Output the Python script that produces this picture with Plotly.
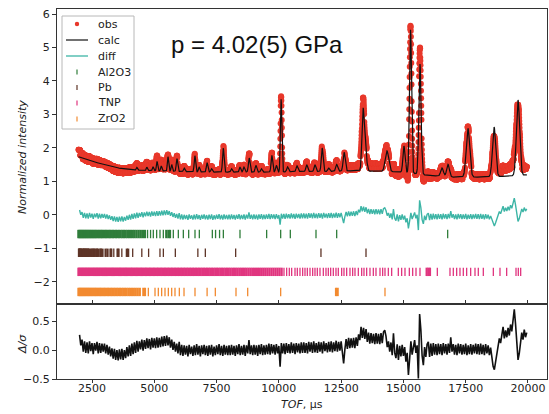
import numpy as np
import plotly.graph_objects as go

# ---------------- data ----------------
# linear-interpolated background (TOF in microseconds, normalized intensity)
bg_tof = [1950, 2500, 3000, 3500, 4000, 4500, 5000, 6000, 7000, 8000, 9000,
          10000, 11000, 12000, 13000, 14000, 15000, 16000, 17000, 18000, 19000, 20000]
bg_val = [1.74, 1.60, 1.50, 1.41, 1.35, 1.33, 1.32, 1.30, 1.28, 1.28, 1.28,
          1.28, 1.30, 1.30, 1.32, 1.30, 1.28, 1.18, 1.13, 1.13, 1.15, 1.20]

# Bragg peaks of the refined profile: centre, height above background, gaussian sigma
peak_tof = [4300, 4700, 4950, 5110, 5280, 5550, 5700, 5910, 6200, 6630, 6800, 7120, 7300,
            7770, 8100, 8440, 8600, 8810, 9080, 9300, 9720, 9900, 10090, 10350, 10730,
            11120, 11450, 11740, 12000, 12320, 12620, 13380, 13480, 14340, 15020, 15284,
            15665, 16550, 16790, 17590, 18640, 19600]
peak_h = [0.08, 0.10, 0.12, 0.28, 0.15, 0.43, 0.20, 0.38, 0.10, 0.48, 0.15, 0.28, 0.10,
          0.72, 0.10, 0.15, 0.15, 0.42, 0.20, 0.10, 0.50, 0.20, 2.17, 0.15, 0.17,
          0.20, 0.20, 0.70, 0.10, 0.20, 0.56, 1.81, 0.55, 0.62, 0.78, 4.28,
          3.29, 0.25, 0.37, 1.45, 1.48, 2.25]
peak_w = [25, 25, 25, 25, 25, 25, 25, 28, 28, 28, 28, 30, 30,
          30, 30, 30, 30, 32, 32, 32, 32, 32, 28, 35, 35,
          35, 35, 35, 35, 38, 40, 45, 50, 70, 40, 40,
          45, 55, 55, 70, 65, 65]

# normalized residual (obs - calc)/sigma, sampled every 50 us from 2000 us
resid_start, resid_step = 2000, 50
resid = [
    0.26, 0.08, 0.18, -0.03, 0.15, -0.05, 0.13, -0.06, 0.15, -0.02, 0.12, -0.07, 0.12, -0.01, 0.14, -0.06, 0.12, -0.05, 0.11, -0.03,
    0.11, -0.06, 0.09, -0.08, 0.06, -0.11, 0.03, -0.15, 0.02, -0.17, 0.00, -0.18, 0.01, -0.16, 0.02, -0.17, 0.00, -0.14, 0.05, -0.11,
    0.08, -0.10, 0.11, -0.07, 0.13, -0.05, 0.16, -0.03, 0.15, 0.01, 0.18, -0.01, 0.17, 0.02, 0.20, 0.03, 0.19, 0.01, 0.21, 0.04,
    0.20, 0.03, 0.22, 0.04, 0.21, 0.05, 0.23, 0.06, 0.24, 0.07, 0.25, 0.08, 0.22, 0.04, 0.18, 0.00, 0.14, -0.03, 0.11, -0.06,
    0.14, -0.09, 0.09, -0.10, 0.08, -0.08, 0.07, -0.11, 0.09, -0.07, 0.06, -0.10, 0.08, -0.09, 0.10, -0.08, 0.07, -0.11, 0.08, -0.07,
    0.09, -0.09, 0.07, -0.10, 0.08, -0.08, 0.09, -0.11, 0.06, -0.09, 0.08, -0.07, 0.10, -0.09, 0.07, -0.10, 0.09, -0.08, 0.07, -0.09,
    0.08, -0.09, 0.09, -0.08, 0.07, -0.10, 0.08, -0.07, 0.10, -0.09, 0.07, -0.08, 0.09, -0.10, 0.08, -0.06, 0.17, -0.07, 0.08, -0.09,
    0.09, -0.08, 0.08, -0.10, 0.09, -0.07, 0.10, -0.09, 0.08, -0.08, 0.09, -0.07, 0.11, -0.08, 0.10, -0.06, 0.09, -0.08, 0.10, -0.06,
    0.07, -0.29, 0.12, -0.06, 0.11, -0.07, 0.12, -0.05, 0.10, -0.06, 0.13, -0.05, 0.11, -0.07, 0.12, -0.04, 0.11, -0.06, 0.13, -0.05,
    0.13, -0.05, 0.12, -0.06, 0.14, -0.03, 0.13, -0.05, 0.15, -0.04, 0.12, -0.05, 0.14, -0.03, 0.13, -0.06, 0.15, -0.02, 0.12, -0.04,
    0.14, -0.03, 0.15, -0.04, 0.13, -0.02, 0.16, -0.03, 0.14, -0.01, 0.15, -0.02, -0.23, 0.01, 0.19, 0.02, 0.21, 0.03, 0.20, 0.04,
    0.21, 0.03, 0.22, 0.07, 0.27, 0.17, 0.40, 0.21, 0.38, 0.19, 0.36, 0.14, 0.30, 0.11, 0.29, 0.12, 0.28, 0.10, 0.29, 0.11,
    0.28, 0.10, 0.29, 0.12, 0.31, 0.34, 0.24, 0.05, 0.15, -0.03, 0.13, -0.09, 0.29, -0.05, -0.14, 0.10, -0.17, 0.07, -0.11, 0.09,
    -0.10, 0.05, -0.20, -0.05, -0.43, -0.15, 0.15, -0.08, 0.10, 0.17, -0.05, 0.08, -0.49, 0.62, 0.35, -0.10, -0.26, 0.05, -0.12, 0.10,
    0.14, -0.12, 0.11, -0.10, 0.12, -0.08, 0.10, -0.09, 0.11, -0.07, 0.10, -0.09, 0.12, -0.06, 0.10, -0.08, 0.11, -0.05, 0.22, -0.03,
    0.10, -0.08, 0.09, -0.09, 0.11, -0.06, 0.10, -0.08, 0.09, -0.07, 0.11, -0.09, 0.08, -0.07, 0.10, -0.08, 0.09, -0.06, 0.11, -0.07,
    0.10, -0.08, 0.11, -0.07, 0.09, -0.09, 0.10, -0.06, 0.08, -0.09, 0.04, -0.12, -0.28, -0.34, -0.22, -0.08, 0.08, 0.20, 0.12, 0.26,
    0.40, 0.20, 0.34, 0.22, 0.38, 0.25, 0.44, 0.32, 0.55, 0.70, 0.45, 0.12, -0.17, -0.06, 0.10, 0.30, 0.18, 0.35, 0.22, 0.30,
]
sigma_scale = 0.8      # residual -> intensity units
diff_offset = -0.06    # vertical offset of the difference curve

# reflection positions (TOF, us) for each phase and the row where they are drawn
al2o3_tof = [1952, 1990, 2031, 2068, 2110, 2147, 2190, 2231, 2270, 2314, 2352, 2398, 2440, 2482,
             2530, 2571, 2618, 2660, 2712, 2760, 2806, 2858, 2905, 2958, 3010, 3062, 3118, 3170,
             3228, 3283, 3342, 3400, 3462, 3520, 3585, 3650, 3716, 3780, 3850, 3918, 3990, 4062,
             4140, 4215, 4295, 4377, 4460, 4545, 4627,
             4730, 4850, 4961, 5095, 5229, 5363, 5480, 5564, 5631, 5764, 5965, 6166, 6380, 6634,
             6808, 7330, 7460, 7620, 7772, 8440, 9510, 10073, 10460, 11491, 12321, 16776]
pb_tof = [1976, 1983, 2005, 2035, 2043, 2066, 2108, 2134, 2171, 2180, 2209, 2250, 2260, 2293,
          2338, 2350, 2386, 2451, 2492, 2551, 2566, 2614, 2682, 2700, 2755, 2835, 2856, 2922,
          3044, 3124, 3242, 3274, 3375, 3525, 3565, 3697, 3897, 3952, 4133, 4499, 4772, 5228,
          5364, 5845, 6749, 7049, 8266, 11690, 13498]
tnp_tof = [1955, 1992, 2040, 2081, 2127, 2166, 2215, 2258, 2301, 2349, 2388, 2437, 2479, 2526,
           2570, 2611, 2660, 2702, 2748, 2795, 2836, 2884, 2927, 2975, 3018, 3066, 3109, 3158,
           3203, 3249, 3297, 3340, 3391, 3436, 3484, 3530, 3577, 3626, 3671, 3722, 3768, 3817,
           3865, 3912, 3963, 4010, 4061, 4108, 4160, 4209, 4258, 4311, 4359, 4412, 4462, 4515,
           4566, 4618, 4671, 4722, 4777, 4829, 4884, 4936, 4991, 5044, 5100, 5153, 5210, 5263,
           5320, 5374, 5431, 5487, 5544, 5600, 5658, 5715, 5772, 5831, 5889, 5947, 6006, 6066,
           6124, 6185, 6244, 6305, 6365, 6427, 6487, 6550, 6611, 6674, 6736, 6800, 6862, 6927,
           6990, 7055, 7118, 7184, 7248, 7315, 7380, 7447, 7513, 7580, 7648, 7715, 7784, 7852,
           7921, 7990, 8060, 8131, 8201, 8272, 8344, 8416, 8487, 8561, 8634, 8707, 8782, 8856,
           8931, 9007, 9083, 9160, 9236, 9314, 9392, 9470, 9549, 9628, 9708, 9787, 9868, 9949,
           10030,
           10113, 10206, 10313, 10420, 10514, 10648, 10741, 10848, 10955, 11049, 11143, 11250,
           11357, 11450, 11544, 11651, 11785, 11892, 11986, 12079, 12186, 12293, 12387, 12521,
           12614, 12721, 12855, 12962, 13056, 13190, 13324, 13417, 13524, 13658, 13792, 13899,
           14060, 14166, 14260, 14394, 14528, 14795, 14929, 15063, 15237, 15371, 15505, 15665,
           15932, 15999, 16066, 16361, 16869, 17003, 17137, 17270, 17404, 17538, 17699, 17873,
           18006, 18207, 18609, 18876, 19144, 19519, 19612, 19706]
zro2_tof = [1955, 1998, 2036, 2079, 2118, 2163, 2204, 2249, 2292, 2338, 2381, 2429, 2474, 2522,
            2569, 2618, 2666, 2716, 2766, 2818, 2869, 2921, 2975, 3028, 3084, 3140, 3196, 3254,
            3313, 3372, 3433, 3495, 3557, 3621, 3686, 3752, 3820, 3889, 3960, 4031, 4105, 4180,
            4258, 4338, 4420,
            4560, 4627, 4761, 5029, 5162, 5296, 5430, 5564, 5698, 5831, 6005, 6193, 6634, 7120,
            7450, 8280, 8749, 10073, 12294, 12361, 14260]

phases = ["Al2O3", "Pb", "TNP", "ZrO2"]
phase_tof = [al2o3_tof, pb_tof, tnp_tof, zro2_tof]
phase_row = [-0.57, -1.13, -1.70, -2.30]
phase_color = ["#2f7d3a", "#5e3427", "#e0357f", "#f28a30"]

pressure_text = "p = 4.02(5) GPa"
x_ticks = [2500, 5000, 7500, 10000, 12500, 15000, 17500, 20000]

# ---------------- profile ----------------
tof = np.arange(1960.0, 19960.0, 5.0)
calc = np.interp(tof, bg_tof, bg_val)
for c, h, w in zip(peak_tof, peak_h, peak_w):
    calc = calc + h * np.exp(-0.5 * ((tof - c) / w) ** 2)

resid = np.array(resid)
resid_tof = resid_start + resid_step * np.arange(len(resid))
bin_idx = np.clip(np.round((tof - resid_start) / resid_step).astype(int), 0, len(resid) - 1)
obs = calc + sigma_scale * resid[bin_idx]
diff = sigma_scale * resid + diff_offset

# ---------------- figure ----------------
OBS_C, CALC_C, DIFF_C = "#e8382b", "#111111", "#3db5a6"
fig = go.Figure()
fig.add_trace(go.Scatter(x=tof, y=obs, mode="markers", name="obs",
                         marker=dict(color=OBS_C, size=6, line=dict(width=0))))
fig.add_trace(go.Scatter(x=tof, y=calc, mode="lines", name="calc",
                         line=dict(color=CALC_C, width=1.2)))
fig.add_trace(go.Scatter(x=resid_tof, y=diff, mode="lines", name="diff",
                         line=dict(color=DIFF_C, width=1.4)))
for name, pos, row, col in zip(phases, phase_tof, phase_row, phase_color):
    pos = np.array(pos, dtype=float)
    # where reflections crowd together the tick strokes are widened so they merge
    gap = np.minimum(np.diff(pos, prepend=pos[0] - 1e4), np.diff(pos, append=pos[-1] + 1e4))
    lw = np.where(gap < 90, 2.2, 1.3)
    fig.add_trace(go.Scatter(x=pos, y=[row] * len(pos), mode="markers", name=name,
                             marker=dict(symbol="line-ns", size=6,
                                         line=dict(color=col, width=lw))))
fig.add_trace(go.Scatter(x=resid_tof, y=resid, mode="lines", xaxis="x2", yaxis="y2",
                         line=dict(color="#111111", width=1.6), showlegend=False))

W, H = 549, 414
L, R, T, B = 57, 2, 9, 35
split = (H - B - 304) / (H - T - B)


def px(xp):
    return (xp - L) / (W - L - R)


def py(yp):
    return (H - B - yp) / (H - T - B)


axis_common = dict(showline=True, linecolor="#333333", linewidth=1, mirror=True,
                   showgrid=False, zeroline=False, tickcolor="#333333",
                   tickfont=dict(family="DejaVu Sans", size=11, color="#222222"))
xr = [1095, 20763]
fig.update_layout(
    width=W, height=H, margin=dict(l=L, r=R, t=T, b=B),
    paper_bgcolor="white", plot_bgcolor="white", showlegend=False,
    xaxis=dict(domain=[0, 1], range=xr, anchor="y", tickvals=x_ticks,
               showticklabels=False, ticks="inside", ticklen=4, **axis_common),
    yaxis=dict(domain=[split, 1], range=[-2.66, 6.15], anchor="x", dtick=1, tick0=0,
               ticks="outside", ticklen=4, **axis_common),
    xaxis2=dict(domain=[0, 1], range=xr, anchor="y2", tickvals=x_ticks,
                ticktext=[str(v) for v in x_ticks], ticklabelstandoff=-4,
                ticks="outside", ticklen=3, **axis_common),
    yaxis2=dict(domain=[0, split], range=[-0.5, 0.793], anchor="x2",
                tickvals=[-0.5, 0.0, 0.5], tickformat=".1f",
                ticks="outside", ticklen=4, **axis_common),
)

ann = []
shapes = []
txt_font = dict(family="DejaVu Sans", size=11, color="#222222")
# axis titles
ann.append(dict(text="<i>Normalized intensity</i>", x=px(22), y=py(157), textangle=-90,
                font=txt_font))
ann.append(dict(text="<i>Δ/σ</i>", x=px(22), y=py(344), textangle=-90, font=txt_font))
ann.append(dict(text="<i>TOF</i>, µs", x=px(302), y=py(404), font=txt_font))
# pressure label
ann.append(dict(text=pressure_text, x=px(257), y=py(44),
                font=dict(family="Liberation Sans, Arial", size=24, color="#111111")))

# legend frame
shapes.append(dict(type="rect", xref="paper", yref="paper",
                   x0=px(62), x1=px(134), y0=py(129), y1=py(16),
                   fillcolor="rgba(255,255,255,0.85)", line=dict(color="#b8b8b8", width=1),
                   layer="above"))

labels = ["obs", "calc", "diff"] + phases
rows = [24, 40, 56, 72, 87.5, 103, 119]
for lab, ry_ in zip(labels, rows):
    ann.append(dict(text=lab, x=px(96), y=py(ry_), xanchor="left", font=txt_font))
# legend handles
shapes.append(dict(type="circle", xref="paper", yref="paper", layer="above",
                   x0=px(74.8), x1=px(79.2), y0=py(26.2), y1=py(21.8),
                   fillcolor=OBS_C, line=dict(width=0)))
shapes.append(dict(type="line", xref="paper", yref="paper", layer="above",
                   x0=px(66), x1=px(88), y0=py(40), y1=py(40),
                   line=dict(color=CALC_C, width=1.2)))
shapes.append(dict(type="line", xref="paper", yref="paper", layer="above",
                   x0=px(66), x1=px(88), y0=py(56), y1=py(56),
                   line=dict(color=DIFF_C, width=1.3)))
for col, ry_ in zip(phase_color, rows[3:]):
    shapes.append(dict(type="line", xref="paper", yref="paper", layer="above",
                       x0=px(77), x1=px(77), y0=py(ry_ - 2.5), y1=py(ry_ + 2.5),
                       line=dict(color=col, width=1.2)))

for a in ann:
    a.setdefault("xanchor", "center")
    a.update(xref="paper", yref="paper", showarrow=False, yanchor="middle")
fig.update_layout(annotations=ann, shapes=shapes)

fig.write_html("out.html")
